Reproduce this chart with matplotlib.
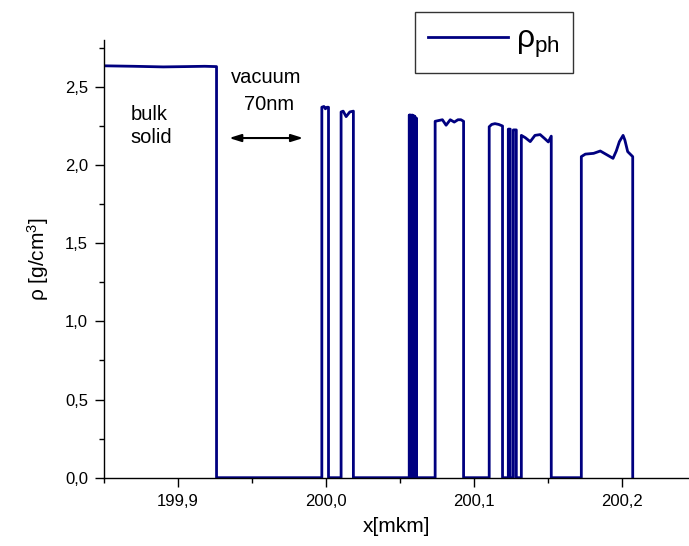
#!/usr/bin/env python3

import matplotlib
matplotlib.use('Agg')
import matplotlib.pyplot as plt
from matplotlib.ticker import MultipleLocator, FuncFormatter

plt.rcParams['font.family'] = ['Liberation Sans', 'DejaVu Sans']
plt.rcParams['mathtext.fontset'] = 'custom'
plt.rcParams['mathtext.rm'] = 'Liberation Sans'
plt.rcParams['mathtext.it'] = 'Liberation Sans:italic'

# density profile: bulk solid, vacuum gap, then the ejected fragments
x_bulk = [199.85, 199.87, 199.89, 199.905, 199.918, 199.926, 199.926]
rho_bulk = [2.635, 2.632, 2.628, 2.630, 2.632, 2.630, 0.0]

x_frag1 = [199.9971, 199.9971, 199.9985, 199.9995, 200.0005, 200.0016, 200.0016]
rho_frag1 = [0.0, 2.37, 2.375, 2.36, 2.37, 2.37, 0.0]

x_frag2 = [200.0101, 200.0101, 200.0115, 200.0135, 200.0160, 200.0184, 200.0184]
rho_frag2 = [0.0, 2.34, 2.345, 2.31, 2.34, 2.345, 0.0]

# cluster of very thin layers
x_frag3 = [200.0561, 200.0561, 200.0564, 200.0564, 200.0567, 200.0567, 200.0570, 200.0570,
           200.0573, 200.0573, 200.0576, 200.0576, 200.0579, 200.0579, 200.0582, 200.0582,
           200.0585, 200.0585, 200.0588, 200.0588, 200.0591, 200.0591, 200.0594, 200.0594,
           200.0597, 200.0597, 200.0600, 200.0600, 200.0603, 200.0603, 200.0606, 200.0606,
           200.0608, 200.0608]
rho_frag3 = [0.0, 2.32, 2.32, 0.0, 0.0, 2.32, 2.32, 0.0,
             0.0, 2.315, 2.315, 0.0, 0.0, 2.32, 2.32, 0.0,
             0.0, 2.31, 2.31, 0.0, 0.0, 2.315, 2.315, 0.0,
             0.0, 2.31, 2.31, 0.0, 0.0, 2.30, 2.30, 0.0,
             0.0, 2.30]
x_frag3 += [200.0608]
rho_frag3 += [0.0]

x_frag4 = [200.0736, 200.0736, 200.0760, 200.0785, 200.0810, 200.0838, 200.0865, 200.0890,
           200.0910, 200.0928, 200.0928]
rho_frag4 = [0.0, 2.28, 2.285, 2.29, 2.255, 2.29, 2.275, 2.29, 2.29, 2.28, 0.0]

x_frag5 = [200.1101, 200.1101, 200.1118, 200.1140, 200.1165, 200.1191, 200.1191]
rho_frag5 = [0.0, 2.245, 2.26, 2.265, 2.26, 2.25, 0.0]

x_frag6 = [200.1230, 200.1230, 200.1243, 200.1243, 200.1264, 200.1264, 200.1284, 200.1284]
rho_frag6 = [0.0, 2.23, 2.23, 0.0, 0.0, 2.225, 2.225, 0.0]

x_frag7 = [200.1318, 200.1318, 200.1345, 200.1378, 200.1410, 200.1445, 200.1475, 200.1500,
           200.1520, 200.1520]
rho_frag7 = [0.0, 2.19, 2.175, 2.15, 2.19, 2.195, 2.17, 2.148, 2.185, 0.0]

x_frag8 = [200.1723, 200.1723, 200.1750, 200.1806, 200.1851, 200.1897, 200.1937, 200.1959,
           200.1980, 200.2005, 200.2017, 200.2036, 200.2070, 200.2070]
rho_frag8 = [0.0, 2.054, 2.07, 2.075, 2.09, 2.065, 2.043, 2.09,
             2.15, 2.19, 2.16, 2.086, 2.054, 0.0]

segments = [(x_bulk, rho_bulk), (x_frag1, rho_frag1), (x_frag2, rho_frag2),
            (x_frag3, rho_frag3), (x_frag4, rho_frag4), (x_frag5, rho_frag5),
            (x_frag6, rho_frag6), (x_frag7, rho_frag7), (x_frag8, rho_frag8)]

x_all = []
rho_all = []
for xs, rs in segments:
    x_all += xs
    rho_all += rs

fig = plt.figure(figsize=(6.89, 5.46), dpi=100)
ax = fig.add_axes([0.1509, 0.1251, 0.8491, 0.8016])

ax.plot(x_all, rho_all, color='#000080', linewidth=2.0, label='ρ$_{\\mathrm{ph}}$')

ax.set_xlim(199.85, 200.245)
ax.set_ylim(0.0, 2.8)

comma = FuncFormatter(lambda v, pos: ('%.1f' % v).replace('.', ','))
ax.xaxis.set_major_locator(MultipleLocator(0.1))
ax.xaxis.set_minor_locator(MultipleLocator(0.05))
ax.yaxis.set_major_locator(MultipleLocator(0.5))
ax.yaxis.set_minor_locator(MultipleLocator(0.25))
ax.xaxis.set_major_formatter(comma)
ax.yaxis.set_major_formatter(comma)

ax.spines['top'].set_visible(False)
ax.spines['right'].set_visible(False)
for s in ('left', 'bottom'):
    ax.spines[s].set_linewidth(1.0)

ax.tick_params(which='major', direction='out', length=6.5, width=1.0, labelsize=12, pad=5)
ax.tick_params(which='minor', direction='out', length=3.3, width=1.0)

ax.set_xlabel('x[mkm]', fontsize=15, labelpad=6)
ax.set_ylabel('ρ [g/cm$^3$]', fontsize=15, labelpad=10)

ax.text(199.868, 2.25, 'bulk\nsolid', fontsize=14.5, ha='left', va='center', linespacing=1.25)
ax.text(199.9595, 2.56, 'vacuum', fontsize=14.5, ha='center', va='center')
ax.text(199.9612, 2.39, '70nm', fontsize=14.5, ha='center', va='center')
ax.annotate('', xy=(199.9345, 2.173), xytext=(199.9845, 2.173),
            arrowprops=dict(arrowstyle='<|-|>,head_length=0.7,head_width=0.22',
                            color='black', lw=1.5, shrinkA=0, shrinkB=0))

leg = ax.legend(loc='upper left', bbox_to_anchor=(0.603, 0.9775), bbox_transform=fig.transFigure,
                fontsize=23, frameon=True, fancybox=False, handlelength=2.5,
                borderpad=0.4, handletextpad=0.25, borderaxespad=0)
leg.get_frame().set_edgecolor('black')
leg.get_frame().set_linewidth(1.0)

fig.savefig('out.png', dpi=100)
